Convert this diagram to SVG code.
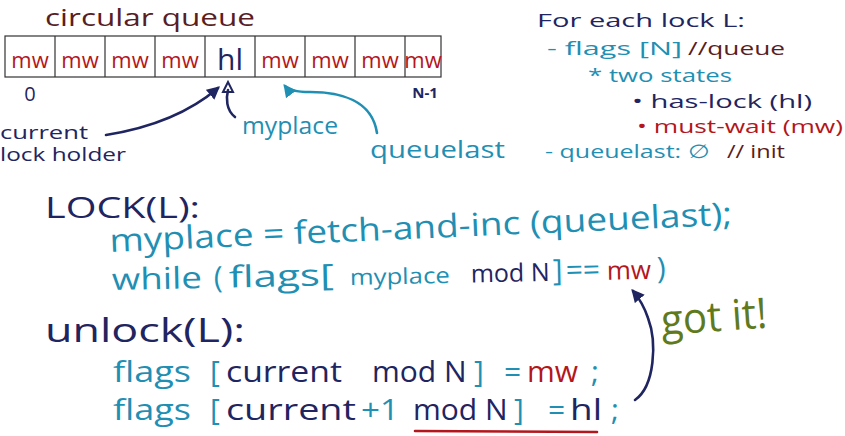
<svg xmlns="http://www.w3.org/2000/svg" width="845" height="436" viewBox="0 0 845 436">
<defs>
<style>
text{font-family:"Open Sans","Liberation Sans",sans-serif;}
.nv{fill:#1f2560}
.tl{fill:#1f8fb3}
.rd{fill:#b3161c}
.mr{fill:#5a1d22}
.ol{fill:#5f7a1d}
.cell{fill:#fff;stroke:#333;stroke-width:1.2}
.mw{font-size:22px;fill:#b3161c;text-anchor:middle}
.conn{fill:none;stroke-width:2.6;stroke-linecap:round}
.code{font-size:30px}
.info{font-size:19px}
</style>
<marker id="ahN" viewBox="0 0 10 10" refX="8" refY="5" markerWidth="5" markerHeight="5" orient="auto"><path d="M0,0 L10,5 L0,10 z" fill="#1f2560"/></marker>
<marker id="ahT" viewBox="0 0 10 10" refX="8" refY="5" markerWidth="5" markerHeight="5" orient="auto"><path d="M0,0 L10,5 L0,10 z" fill="#1f8fb3"/></marker>
</defs>
<rect width="845" height="436" fill="#fff"/>

<g id="title"><text x="45" y="26" class="mr" font-size="24" textLength="210" lengthAdjust="spacingAndGlyphs">circular queue</text></g>

<g id="queue">
<rect class="cell" x="5" y="36" width="436" height="41"/>
<path d="M55,36V77M105,36V77M155,36V77M205,36V77M255,36V77M305,36V77M355,36V77M405,36V77" stroke="#333" stroke-width="1.2"/>
<text class="mw" x="30" y="68">mw</text>
<text class="mw" x="80" y="68">mw</text>
<text class="mw" x="130" y="68">mw</text>
<text class="mw" x="180" y="68">mw</text>
<text x="230" y="70" class="nv" font-size="30" text-anchor="middle">hl</text>
<text class="mw" x="280" y="68">mw</text>
<text class="mw" x="330" y="68">mw</text>
<text class="mw" x="380" y="68">mw</text>
<text class="mw" x="423" y="68">mw</text>
<text x="30" y="101" class="nv" font-size="20" text-anchor="middle">0</text>
<text x="425" y="98" class="nv" font-size="15" font-weight="bold" text-anchor="middle">N-1</text>
</g>

<g id="current-lock-holder"><text x="0" y="139" class="nv" font-size="18" textLength="88" lengthAdjust="spacingAndGlyphs">current</text><text x="0" y="161" class="nv" font-size="18" textLength="126" lengthAdjust="spacingAndGlyphs">lock holder</text></g>
<g id="myplace-label"><text x="242" y="134" class="tl" font-size="23" textLength="96" lengthAdjust="spacingAndGlyphs">myplace</text></g>
<g id="queuelast-label"><text x="370" y="158" class="tl" font-size="24" textLength="135" lengthAdjust="spacingAndGlyphs">queuelast</text></g>

<g id="connectors">
<path class="conn" stroke="#1f2560" marker-end="url(#ahN)" d="M106,135 C150,128 190,112 218,88"/>
<path class="conn" stroke="#1f2560" d="M235,117 C226,110 226,98 228,90"/>
<path d="M223,92 L228,82 L233,92 z" fill="none" stroke="#1f2560" stroke-width="2"/>
<path class="conn" stroke="#1f8fb3" marker-end="url(#ahT)" d="M377,133 C372,100 340,92 310,92 C295,92 288,90 285,86"/>
<path class="conn" stroke="#1f2560" marker-end="url(#ahN)" d="M635,400 C655,386 657,342 648,318 C644,306 639,298 633,291"/>
<path d="M415,431 L597,432" stroke="#b3161c" stroke-width="2.6" fill="none" stroke-linecap="round"/>
</g>

<g id="info">
<text x="537" y="27" class="nv info" textLength="208" lengthAdjust="spacingAndGlyphs">For each lock L:</text>
<text y="55" class="info"><tspan x="547" class="tl" textLength="135" lengthAdjust="spacingAndGlyphs">- flags [N]</tspan> <tspan x="688" class="mr" textLength="97" lengthAdjust="spacingAndGlyphs">//queue</tspan></text>
<text x="588" y="82" class="tl info" textLength="144" lengthAdjust="spacingAndGlyphs">* two states</text>
<text x="632" y="108" class="nv info" textLength="180" lengthAdjust="spacingAndGlyphs">• has-lock (hl)</text>
<text x="637" y="133" class="rd info" textLength="206" lengthAdjust="spacingAndGlyphs">• must-wait (mw)</text>
<text y="158" class="info"><tspan x="545" class="tl" textLength="165" lengthAdjust="spacingAndGlyphs">- queuelast: ∅</tspan> <tspan x="727" class="mr" textLength="58" lengthAdjust="spacingAndGlyphs">// init</tspan></text>
</g>

<g id="lock-code">
<text x="45" y="218" class="nv" font-size="29" textLength="155" lengthAdjust="spacingAndGlyphs">LOCK(L):</text>
<text x="110" y="252" class="tl" font-size="32" transform="rotate(-2.5 110 252)" textLength="623" lengthAdjust="spacingAndGlyphs">myplace = fetch-and-inc (queuelast);</text>
<text y="290" class="code" transform="rotate(-1.2 112 290)"><tspan x="112" class="tl" textLength="90" lengthAdjust="spacingAndGlyphs">while</tspan> <tspan x="214" class="tl">(</tspan><tspan x="229" class="tl" textLength="105" lengthAdjust="spacingAndGlyphs">flags[</tspan><tspan x="350" class="tl" font-size="22" textLength="100" lengthAdjust="spacingAndGlyphs">myplace</tspan> <tspan x="471" class="nv" font-size="25">mod N</tspan><tspan x="553" class="tl">]</tspan> <tspan x="566" class="tl">==</tspan> <tspan x="607" class="rd" font-size="26">mw</tspan><tspan x="657" class="tl">)</tspan></text>
</g>

<g id="unlock-code">
<text x="45" y="342" class="nv" font-size="32" textLength="200" lengthAdjust="spacingAndGlyphs">unlock(L):</text>
<text y="382" class="code"><tspan x="113" class="tl" textLength="78" lengthAdjust="spacingAndGlyphs">flags</tspan> <tspan x="210" class="tl">[</tspan><tspan x="226" class="nv" textLength="116" lengthAdjust="spacingAndGlyphs">current</tspan> <tspan x="372" class="nv">mod N</tspan><tspan x="474" class="tl">]</tspan> <tspan x="504" class="tl">=</tspan> <tspan x="527" class="rd">mw</tspan><tspan x="591" class="tl">;</tspan></text>
<text y="420" class="code"><tspan x="113" class="tl" textLength="78" lengthAdjust="spacingAndGlyphs">flags</tspan> <tspan x="210" class="tl">[</tspan><tspan x="226" class="nv" textLength="130" lengthAdjust="spacingAndGlyphs">current</tspan><tspan x="361" class="tl" textLength="38" lengthAdjust="spacingAndGlyphs">+1</tspan> <tspan x="413" class="nv">mod N</tspan><tspan x="514" class="tl">]</tspan> <tspan x="548" class="tl">=</tspan><tspan x="570" class="nv" textLength="32" lengthAdjust="spacingAndGlyphs">hl</tspan><tspan x="611" class="tl">;</tspan></text>
</g>

<g id="got-it"><text x="662" y="335" class="ol" font-size="42" transform="rotate(-4 662 335)" textLength="106" lengthAdjust="spacingAndGlyphs">got it!</text></g>
</svg>
